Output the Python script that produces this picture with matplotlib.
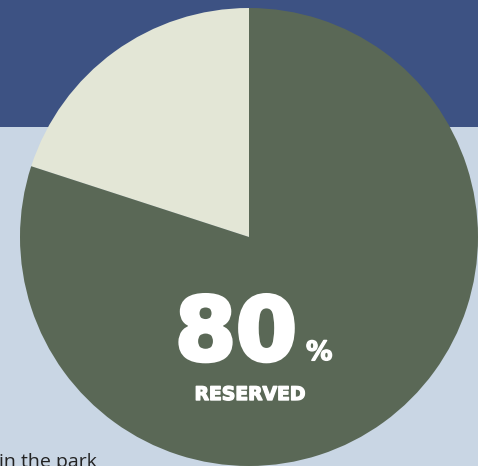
import matplotlib
matplotlib.use("Agg")
import matplotlib.pyplot as plt
from matplotlib.patches import Rectangle
import matplotlib.patheffects as pe

labels = ["Not reserved", "Reserved"]
values = [20, 80]
colors = ["#e3e6d6", "#5a6856"]
big_label = "80"
unit_label = "%"
sub_label = "RESERVED"
caption = "in the park"

W, H = 478, 466
fig = plt.figure(figsize=(W / 100, H / 100), dpi=100)
fig.patch.set_facecolor("#c9d6e4")
ax = fig.add_axes([0, 0, 1, 1])

ax.add_patch(Rectangle((0, H - 127), W, 127, facecolor="#3d5283", edgecolor="none", zorder=0))

ax.pie(values, colors=colors, startangle=90, counterclock=True,
       center=(249, H - 237), radius=229, frame=True,
       wedgeprops=dict(linewidth=0))
ax.set_xlim(0, W)
ax.set_ylim(0, H)
ax.set_aspect("auto")
ax.axis("off")

ax.text(236, H - 360, big_label, color="white", fontsize=63, fontweight="bold",
        ha="center", va="baseline", family="DejaVu Sans",
        path_effects=[pe.withStroke(linewidth=3, foreground="white")])
ax.text(306, H - 360, unit_label, color="white", fontsize=19, fontweight="bold",
        ha="left", va="baseline", family="DejaVu Sans",
        path_effects=[pe.withStroke(linewidth=1, foreground="white")])
ax.text(250, H - 400, sub_label, color="white", fontsize=13.5, fontweight="bold",
        ha="center", va="baseline", family="DejaVu Sans",
        path_effects=[pe.withStroke(linewidth=1, foreground="white")])
ax.text(-1, H - 467, caption, color="#222222", fontsize=14,
        ha="left", va="baseline", family="Open Sans")

fig.savefig("out.png", dpi=100, facecolor=fig.get_facecolor())
